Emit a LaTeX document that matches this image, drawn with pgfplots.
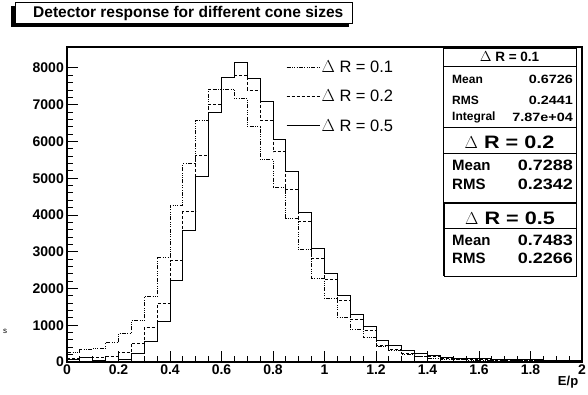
\documentclass[border=0pt]{standalone}
\usepackage{fontspec}
\setmainfont{Liberation Sans}
\newfontfamily\widefont[FakeStretch=1.2]{Liberation Sans}
\usepackage{pgfplots}
\pgfplotsset{compat=1.18}
\usepackage{pgfplotstable}

% E/p histograms, 40 bins of width 0.05 (left edge, content); last row closes the final bin
\pgfplotstableread{
x     a     b     c
0.00  250   110   55
0.05  345   127   110
0.10  370   127   40
0.15  525   145   20
0.20  780   255   75
0.25  1125  510   220
0.30  1780  935   560
0.35  2850  1580  1105
0.40  4270  2750  2230
0.45  5390  4090  3570
0.50  6585  5620  5045
0.55  7420  7020  6785
0.60  7420  7745  7745
0.65  7175  7800  8140
0.70  6400  7400  7700
0.75  5510  6585  7075
0.80  4740  5715  6040
0.85  3915  4700  5175
0.90  3050  3820  4065
0.95  2275  2820  3095
1.00  1730  2250  2400
1.05  1215  1670  1805
1.10  890   1160  1280
1.15  660   870   960
1.20  435   460   580
1.25  325   345   460
1.30  218   235   300
1.35  145   163   218
1.40  110   145   180
1.45  72    90    118
1.50  65    80    105
1.55  55    70    95
1.60  50    62    85
1.65  45    55    80
1.70  40    50    72
1.75  38    45    65
1.80  35    40    58
1.85  30    35    52
1.90  28    32    48
1.95  25    28    42
2.00  25    28    42
}\histdata

\newcommand{\statfont}[1]{\fontsize{#1}{#1}\selectfont\bfseries}
\newcommand{\widestat}[1]{\widefont\fontsize{#1}{#1}\selectfont\bfseries}

\begin{document}
\begin{tikzpicture}[x=1pt,y=1pt]
\path[use as bounding box] (0,0) rectangle (588,395);

% title pave with shadow
\fill[black] (11,368) rectangle (15,389);
\fill[black] (11,368) rectangle (349,371.5);
\draw[line width=1pt,fill=white] (15,371.5) rectangle (352,392);
\node[anchor=west,inner sep=0pt] at (33,381.5) {\statfont{15.5}Detector response for different cone sizes};

\node[inner sep=0pt] at (5,64) {\fontsize{8}{8}\selectfont s};

\begin{axis}[
  at={(67pt,33pt)}, anchor=south west,
  scale only axis, width=515pt, height=315pt,
  xmin=0, xmax=2, ymin=0, ymax=8570,
  axis line style={line width=1.2pt},
  xtick={0,0.2,...,2.01}, ytick={0,1000,...,8000},
  minor x tick num=3, minor y tick num=4,
  xtick pos=left, ytick pos=left,
  tick align=inside,
  major tick length=11pt, minor tick length=6pt,
  tick style={line width=0.9pt, black},
  /pgf/number format/assume math mode=true,
  /pgf/number format/1000 sep={},
  scaled ticks=false,
  xticklabel style={inner sep=0pt, yshift=-3pt, font=\statfont{14}},
  yticklabel style={inner sep=0pt, xshift=-3pt, font=\statfont{14}},
  xticklabel={\pgfmathprintnumber[fixed,precision=1]{\tick}},
  xlabel={E/p},
  xlabel style={at={(axis description cs:0.973,-0.045)}, anchor=north, inner sep=0pt, font=\statfont{13}},
  legend style={draw=none, fill=none, at={(0.425,0.962)}, anchor=north west,
    inner sep=0pt, row sep=13pt, font=\fontsize{16.5}{16.5}\selectfont,
    nodes={inner sep=1.5pt}},
  legend cell align=left,
  legend image code/.code={\draw[#1] (0pt,0pt) -- (33pt,0pt);},
]
\addplot[const plot mark left, black, line width=0.9pt,
  dash pattern=on 4pt off 1.5pt on 0.8pt off 1.5pt on 0.8pt off 1.5pt on 0.8pt off 1.5pt]
  table[x=x,y=a] {\histdata};
\addlegendentry{$\Delta$ R = 0.1}
\addplot[const plot mark left, black, line width=0.9pt, dash pattern=on 3pt off 2pt]
  table[x=x,y=b] {\histdata};
\addlegendentry{$\Delta$ R = 0.2}
\addplot[const plot mark left, black, line width=1pt]
  table[x=x,y=c] {\histdata};
\addlegendentry{$\Delta$ R = 0.5}
\end{axis}

% statistics boxes
\draw[line width=0.8pt,fill=white] (443,268) rectangle (576,347);
\draw[line width=0.8pt] (443,329) -- (576,329);
\node[inner sep=0pt] at (509.5,338) {\statfont{13.5}$\Delta$ R = 0.1};
\node[anchor=west,inner sep=0pt] at (452,316) {\statfont{12}Mean};
\node[anchor=east,inner sep=0pt] at (573,316) {\widestat{12}0.6726};
\node[anchor=west,inner sep=0pt] at (452,295) {\statfont{12}RMS};
\node[anchor=east,inner sep=0pt] at (573,295) {\widestat{12}0.2441};
\node[anchor=west,inner sep=0pt] at (452,278) {\statfont{12}Integral};
\node[anchor=east,inner sep=0pt] at (573,278) {\widestat{12}7.87e+04};

\draw[line width=0.8pt,fill=white] (443,192.7) rectangle (576,268);
\draw[line width=0.8pt] (443,241.7) -- (576,241.7);
\node[inner sep=0pt] at (509.5,252.3) {\widestat{18}$\Delta$ R = 0.2};
\node[anchor=west,inner sep=0pt] at (452,229.3) {\statfont{15}Mean};
\node[anchor=east,inner sep=0pt] at (573,229.3) {\widestat{15}0.7288};
\node[anchor=west,inner sep=0pt] at (452,211) {\statfont{15}RMS};
\node[anchor=east,inner sep=0pt] at (573,211) {\widestat{15}0.2342};

\draw[line width=0.8pt,fill=white] (444,119) rectangle (576,191.7);
\draw[line width=1.6pt] (444,119) -- (444,191.7);
\draw[line width=0.8pt] (444,166.7) -- (576,166.7);
\node[inner sep=0pt] at (510,176.7) {\widestat{18}$\Delta$ R = 0.5};
\node[anchor=west,inner sep=0pt] at (452,154.5) {\statfont{15}Mean};
\node[anchor=east,inner sep=0pt] at (573,154.5) {\widestat{15}0.7483};
\node[anchor=west,inner sep=0pt] at (452,136.7) {\statfont{15}RMS};
\node[anchor=east,inner sep=0pt] at (573,136.7) {\widestat{15}0.2266};
\end{tikzpicture}
\end{document}
